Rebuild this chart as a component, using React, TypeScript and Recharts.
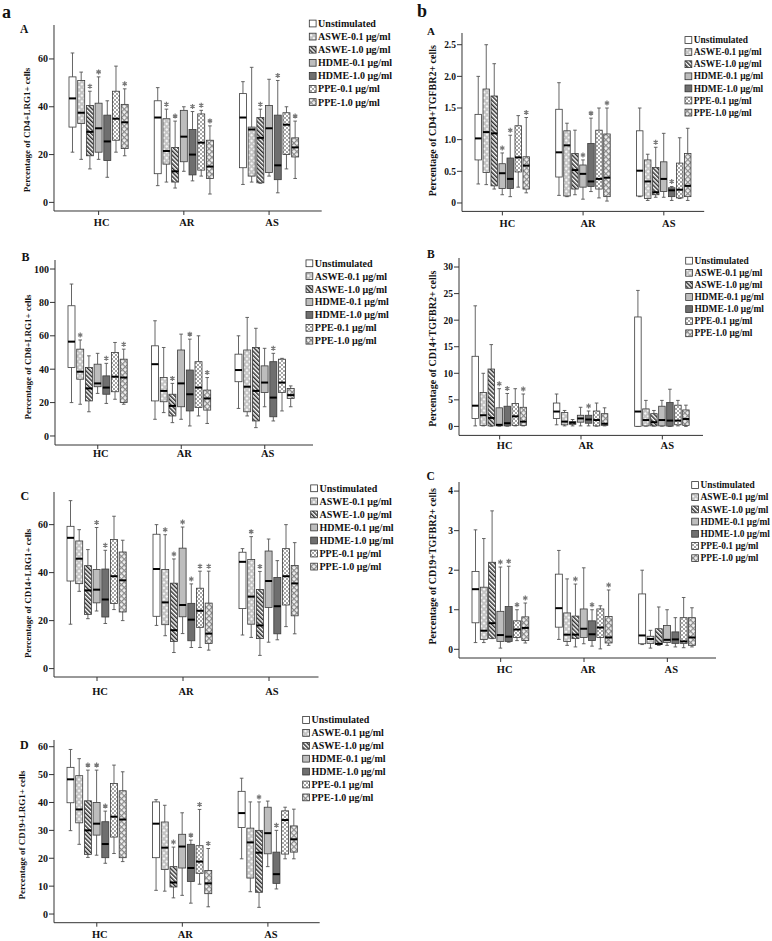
import React from "react";
import { BarChart, Bar, XAxis, YAxis } from "recharts";

type Five = [number, number, number, number, number];

const FONT = "'Liberation Serif', 'Times New Roman', serif";
const AXIS = "#333";

const categories = ["HC", "AR", "AS"];
const treatments = [
  "Unstimulated",
  "ASWE-0.1 μg/ml",
  "ASWE-1.0 μg/ml",
  "HDME-0.1 μg/ml",
  "HDME-1.0 μg/ml",
  "PPE-0.1 μg/ml",
  "PPE-1.0 μg/ml",
];

// each entry: [min, q1, median, q3, max], in treatment order
const cd4Lrg1HC: Five[] = [
  [21, 31.5, 43.5, 52.5, 62.5], [18, 33, 37.5, 51, 54.5], [14, 19.5, 29.5, 40.5, 46.5],
  [18, 21, 31, 41.5, 52.5], [10.5, 17.5, 25.5, 36.5, 42.5], [21, 26, 35, 46.5, 57], [19.5, 22.5, 33.5, 41, 47.5],
];
const cd4Lrg1AR: Five[] = [
  [7, 12, 35.5, 42.5, 48], [8.5, 16, 21.5, 35, 39], [6, 8.5, 13, 23, 34],
  [13, 17, 27.5, 38.5, 40], [9, 11.5, 20, 30.5, 38], [11, 13.5, 25, 37, 38.5], [3.5, 10, 15, 26, 32],
];
const cd4Lrg1AS: Five[] = [
  [7.5, 14.5, 35.5, 45.5, 50.5], [8.5, 11, 30.5, 31.5, 56.5], [8, 8.2, 27, 35.5, 39],
  [11, 12.5, 31, 40.5, 51.5], [4, 9.5, 15.5, 36.5, 51], [14, 20, 32.5, 37.5, 40], [10, 19, 23, 27, 34],
];
const cd4Lrg1Sig = [[2, 3, 6], [1, 2, 4, 5, 6], [2, 4, 6]];

const cd8Lrg1HC: Five[] = [
  [20, 41, 56.5, 78, 91], [19, 34, 38.5, 52, 57.5], [14.5, 21, 28.5, 41, 48],
  [25.5, 29.5, 31.5, 43, 49.5], [19.5, 25, 29, 36, 43.5], [22, 26.5, 35.5, 50, 56], [19, 20, 35, 46, 52],
];
const cd8Lrg1AR: Five[] = [
  [10, 21, 43, 54, 69], [14, 20.5, 27, 35, 53], [8, 12, 18, 25, 31.5],
  [10, 17.5, 31.5, 51.5, 61], [6, 15, 25, 39.5, 58], [12, 17, 29, 44.5, 60], [7.5, 15.5, 22.5, 27.5, 35],
];
const cd8Lrg1AS: Five[] = [
  [16.5, 32.5, 39.5, 49, 60], [12, 14.5, 29.5, 51.5, 71], [5, 9, 27, 53, 64.5],
  [17.5, 26, 32, 42, 52.5], [9, 11.5, 23, 44.5, 49.5], [15, 26, 32, 46, 46.5], [17.5, 22.5, 24.5, 28.5, 30],
];
const cd8Lrg1Sig = [[1, 4, 6], [2, 4, 6], [4]];

const cd14Lrg1HC: Five[] = [
  [18.5, 36.5, 54.5, 59.3, 70], [32.2, 35.4, 45.8, 53.2, 57.9], [20.8, 22.6, 32.6, 42.9, 49.6],
  [24, 27.4, 32.9, 41.3, 58.8], [18.8, 21.5, 28.8, 41.5, 49.3], [24.6, 27.1, 38.5, 53.8, 63.5], [20, 23.6, 36.8, 48.6, 53.5],
];
const cd14Lrg1AR: Five[] = [
  [18, 21.8, 41.5, 56, 60], [13.7, 18.3, 27.6, 41.3, 55.8], [6.7, 11.3, 16, 35.6, 45.7],
  [14.6, 21.6, 26.5, 50.2, 59], [8.8, 11.6, 20.4, 27.2, 35.3], [8.8, 17.2, 24.1, 33.5, 40.6], [7.7, 10.5, 14.6, 27.3, 40.6],
];
const cd14Lrg1AS: Five[] = [
  [14, 25, 44.5, 48.5, 50], [13, 18.5, 30, 45.5, 55], [5.5, 12.5, 18, 33, 40.5],
  [11, 25.5, 36.5, 49, 54], [12, 14.5, 26, 38, 45], [17.5, 26.5, 38.5, 50, 60], [14.5, 22, 35.5, 43, 52.5],
];
const cd14Lrg1Sig = [[3, 4], [1, 2, 3, 4, 5, 6], [1, 2]];

const cd19Lrg1HC: Five[] = [
  [29.9, 39.9, 48.3, 52.6, 59], [25, 32.7, 37.5, 49.6, 55.7], [20.3, 21.4, 30, 40.6, 51.6],
  [21.1, 28.3, 32.4, 40, 51.6], [18.2, 20.2, 25.1, 33.1, 36.9], [21.7, 27.6, 34.9, 46.8, 53.4], [18.8, 20.2, 33.9, 44.2, 51],
];
const cd19Lrg1AR: Five[] = [
  [8.5, 20.2, 32.4, 40.2, 41], [8.2, 16, 23.8, 33, 39], [5.8, 9.7, 11.3, 17, 24],
  [6.7, 16.5, 24.2, 28.6, 36.3], [3.9, 11.7, 16.5, 25, 26.5], [10.7, 14.6, 18.8, 24.5, 37.5], [2.6, 7.3, 11, 15.6, 23.5],
];
const cd19Lrg1AS: Five[] = [
  [19.8, 31, 36.2, 44, 48.7], [8, 12.9, 25.7, 30.8, 40.2], [2.4, 7.8, 22, 30, 40.2],
  [17, 21.6, 29, 38.3, 40.5], [9, 11, 14.3, 22.2, 30], [19.8, 21.5, 33.7, 37, 38.3], [19.8, 22.2, 26.8, 31.6, 37.6],
];
const cd19Lrg1Sig = [[2, 3, 4], [2, 4, 5, 6], [2, 4]];

const cd4TgfHC: Five[] = [
  [0.3, 0.68, 1.02, 1.4, 2.0], [0.29, 0.48, 1.12, 1.8, 2.5], [0.22, 0.27, 1.1, 1.69, 2.2],
  [0.13, 0.23, 0.47, 0.62, 0.79], [0.1, 0.23, 0.38, 0.71, 1.07], [0.25, 0.49, 0.72, 1.22, 1.38], [0.16, 0.22, 0.59, 0.73, 1.35],
];
const cd4TgfAR: Five[] = [
  [0.12, 0.41, 0.8, 1.48, 1.9], [0.1, 0.11, 0.91, 1.14, 1.26], [0.13, 0.22, 0.52, 0.78, 1.15],
  [0.06, 0.25, 0.46, 0.6, 0.68], [0.18, 0.26, 0.34, 0.94, 1.34], [0.08, 0.22, 0.38, 1.15, 1.5], [0.03, 0.1, 0.4, 1.09, 1.5],
];
const cd4TgfAS: Five[] = [
  [0.1, 0.11, 0.51, 1.14, 1.5], [0.04, 0.07, 0.34, 0.68, 0.77], [0.09, 0.13, 0.17, 0.56, 0.88],
  [0.09, 0.18, 0.38, 0.65, 1.1], [0.04, 0.1, 0.2, 0.24, 0.26], [0.07, 0.08, 0.21, 0.63, 1.03], [0.04, 0.1, 0.27, 0.78, 1.18],
];
const cd4TgfSig = [[3, 4, 6], [3, 4, 6], [2, 4]];

const cd14TgfHC: Five[] = [
  [0.1, 1.5, 3.9, 13.2, 22.7], [0.1, 0.2, 2.1, 6.4, 10], [0.05, 0.1, 1.6, 10.8, 15.4],
  [0.05, 0.1, 0.3, 3.5, 7.1], [0.05, 0.1, 0.6, 3.8, 6.2], [0.1, 0.2, 1.9, 4.3, 7.1], [0.1, 0.2, 0.9, 3.6, 6.1],
];
const cd14TgfAR: Five[] = [
  [0.3, 1.5, 2.8, 4.4, 6.1], [0.1, 0.3, 0.9, 2.6, 3], [0.1, 0.4, 0.7, 0.9, 1.3],
  [0.1, 0.8, 1.5, 2.1, 3.6], [0.1, 0.6, 1.3, 2.1, 2.9], [0.05, 0.1, 1.2, 2.9, 4.4], [0.1, 0.2, 0.5, 2.4, 3.5],
];
const cd14TgfAS: Five[] = [
  [0, 0.02, 2.8, 20.6, 25.6], [0.05, 0.1, 1.2, 3.3, 4.9], [0.05, 0.1, 0.8, 2.4, 3],
  [0.05, 0.1, 1.2, 3.8, 4.9], [0, 0.05, 1.1, 4.5, 7], [0.1, 0.3, 1.1, 4, 4.9], [0, 0.2, 1.4, 3.1, 4],
];
const cd14TgfSig = [[3, 4, 6], [4], []];

const cd19TgfHC: Five[] = [
  [0.17, 0.67, 1.52, 1.97, 3.02], [0.17, 0.25, 0.47, 1.57, 2.8], [0.27, 0.28, 0.66, 2.2, 3.5],
  [0.03, 0.2, 0.36, 0.96, 2.08], [0.18, 0.2, 0.32, 1.08, 2.1], [0.22, 0.3, 0.5, 0.72, 1.0], [0.16, 0.22, 0.54, 0.82, 1.17],
];
const cd19TgfAR: Five[] = [
  [0.25, 0.56, 1.04, 1.9, 2.5], [0.1, 0.2, 0.37, 0.92, 1.78], [0.06, 0.27, 0.37, 0.84, 1.65],
  [0.14, 0.3, 0.52, 1.02, 2.06], [0.08, 0.22, 0.38, 0.72, 1.0], [0.01, 0.3, 0.55, 1.02, 1.1], [0.1, 0.16, 0.3, 0.83, 1.5],
];
const cd19TgfAS: Five[] = [
  [0.12, 0.14, 0.35, 1.4, 2.0], [0.03, 0.15, 0.26, 0.33, 0.48], [0.1, 0.12, 0.14, 0.52, 1.07],
  [0.1, 0.17, 0.24, 0.6, 1.0], [0.06, 0.15, 0.25, 0.44, 0.8], [0.04, 0.15, 0.2, 0.8, 1.31], [0.06, 0.1, 0.3, 0.8, 1.05],
];
const cd19TgfSig = [[3, 4, 5, 6], [2, 4, 6], []];

const fills = [
  "#ffffff",
  "url(#pat-aswe01)",
  "url(#pat-aswe10)",
  "#bdbdbd",
  "#6f6f6f",
  "url(#pat-ppe01)",
  "url(#pat-ppe10)",
];

// whisker range drives the bar; box parts are placed with the same pixel scale
const rangeKeys = treatments.map((_, ti) => (d: any) => [d["s" + ti].v[0], d["s" + ti].v[4]]);

// significance star, drawn as three crossing strokes
const starPath = (cx: number, cy: number, r: number) => {
  const dx = r * 0.866;
  const dy = r * 0.5;
  return `M${cx} ${cy - r}V${cy + r}M${cx - dx} ${cy - dy}L${cx + dx} ${cy + dy}M${cx - dx} ${cy + dy}L${cx + dx} ${cy - dy}`;
};

const boxShapes = treatments.map((_, ti) => (p: any) => {
  const cell = p.payload?.["s" + ti];
  if (!cell) return <g />;
  const [lo, q1, med, q3, hi] = cell.v as Five;
  const top = Math.min(p.y, p.y + p.height);
  const h = Math.abs(p.height);
  const k = hi > lo ? h / (hi - lo) : 0;
  const yv = (v: number) => top + (hi - v) * k;
  const cx = p.x + p.width / 2;
  const cap = 1.8;
  return (
    <g>
      <line x1={cx} x2={cx} y1={yv(hi)} y2={yv(q3)} stroke="#555" strokeWidth={0.9} />
      <line x1={cx} x2={cx} y1={yv(q1)} y2={yv(lo)} stroke="#555" strokeWidth={0.9} />
      <line x1={cx - cap} x2={cx + cap} y1={yv(hi)} y2={yv(hi)} stroke="#555" strokeWidth={0.9} />
      <line x1={cx - cap} x2={cx + cap} y1={yv(lo)} y2={yv(lo)} stroke="#555" strokeWidth={0.9} />
      <rect
        x={p.x}
        y={yv(q3)}
        width={p.width}
        height={Math.max(yv(q1) - yv(q3), 0.5)}
        fill={fills[ti]}
        stroke="#3a3a3a"
        strokeWidth={0.8}
      />
      <line x1={p.x} x2={p.x + p.width} y1={yv(med)} y2={yv(med)} stroke="#000" strokeWidth={2} />
      {cell.sig && <path d={starPath(cx, yv(hi) - 5, 2.5)} stroke="#777" strokeWidth={1.2} fill="none" />}
    </g>
  );
});

type PanelProps = {
  stats: Five[][];
  sig: number[][];
  yLabel: string;
  plot: { l: number; r: number; t: number; b: number };
  domain: [number, number];
  ticks: number[];
  fmt?: (v: number) => string;
  pad: { left: number; right: number };
  barSize: number;
  barGap: number;
  labelXY: [number, number];
  labelSize: number;
  tickSize: number;
  catOff: number;
  catDx: number;
};

const Panel = (props: PanelProps) => {
  const { stats, sig, yLabel, plot, domain, ticks, fmt, pad, barSize, barGap, labelXY, labelSize, tickSize, catOff, catDx } =
    props;
  const left = plot.l - 40;
  const top = plot.t - 10;
  const width = plot.r - plot.l + 50;
  const height = plot.b - plot.t + 40;
  const data = categories.map((name, ci) => {
    const row: any = { name };
    treatments.forEach((_, ti) => {
      row["s" + ti] = { v: stats[ci][ti], sig: sig[ci].includes(ti) };
    });
    return row;
  });
  const lx = labelXY[0] - left;
  const ly = labelXY[1] - top;
  const renderYLabel = () => (
    <text
      x={lx}
      y={ly}
      transform={`rotate(-90 ${lx} ${ly})`}
      textAnchor="middle"
      dominantBaseline="central"
      fontSize={labelSize}
      fontWeight="bold"
      fontFamily={FONT}
      fill="#111"
    >
      {yLabel}
    </text>
  );
  const renderCat = (t: any) => (
    <text
      x={t.x + catDx}
      y={t.y - 4 + catOff}
      textAnchor="middle"
      dominantBaseline="central"
      fontSize={10.5}
      fontWeight="bold"
      fontFamily={FONT}
      fill="#111"
    >
      {t.payload.value}
    </text>
  );
  return (
    <div style={{ position: "absolute", left, top }}>
      <BarChart
        width={width}
        height={height}
        data={data}
        margin={{ top: 10, right: 10, bottom: 0, left: 0 }}
        barSize={barSize}
        barGap={barGap}
      >
        <XAxis
          dataKey="name"
          height={30}
          interval={0}
          padding={pad}
          tickSize={4}
          tickMargin={0}
          stroke={AXIS}
          tick={renderCat}
        />
        <YAxis
          width={40}
          type="number"
          domain={domain}
          ticks={ticks}
          interval={0}
          tickSize={5}
          tickMargin={1}
          tickFormatter={fmt ?? ((v: number) => String(v))}
          stroke={AXIS}
          tick={{ fontSize: tickSize, fontWeight: "bold", fill: "#111", fontFamily: FONT }}
          label={renderYLabel}
        />
        {treatments.map((t, ti) => (
          <Bar key={t} name={t} dataKey={rangeKeys[ti]} shape={boxShapes[ti]} isAnimationActive={false} />
        ))}
      </BarChart>
    </div>
  );
};

const LegendBlock = ({ x, y, step, size }: { x: number; y: number; step: number; size: number }) => (
  <g>
    {treatments.map((t, i) => (
      <g key={t}>
        <rect x={x} y={y + i * step - 3.4} width={6.8} height={6.8} fill={fills[i]} stroke="#333" strokeWidth={0.8} />
        <text x={x + 8.8} y={y + i * step + size * 0.34} fontSize={size} fontWeight="bold" fontFamily={FONT} fill="#111">
          {t}
        </text>
      </g>
    ))}
  </g>
);

const Letter = ({ x, y, size, children }: { x: number; y: number; size: number; children: string }) => (
  <text x={x} y={y} fontSize={size} fontWeight="bold" fontFamily={FONT} fill="#111">
    {children}
  </text>
);

const oneDecimal = (v: number) => (v === 0 ? "0" : v.toFixed(1));

export default function App() {
  return (
    <div
      style={{
        position: "absolute",
        left: 0,
        top: 0,
        width: 772,
        height: 941,
        background: "#fff",
        overflow: "hidden",
        fontFamily: FONT,
      }}
    >
      <svg width={772} height={941} style={{ position: "absolute", left: 0, top: 0 }}>
        <defs>
          <pattern id="pat-aswe01" width={4} height={4} patternUnits="userSpaceOnUse" patternTransform="rotate(45)">
            <rect width={4} height={4} fill="#c4c4c4" />
            <rect width={2} height={2} fill="#f6f6f6" />
          </pattern>
          <pattern id="pat-aswe10" width={3} height={3} patternUnits="userSpaceOnUse" patternTransform="rotate(-45)">
            <rect width={3} height={3} fill="#ffffff" />
            <rect width={1.5} height={3} fill="#2e2e2e" />
          </pattern>
          <pattern id="pat-ppe01" width={4} height={4} patternUnits="userSpaceOnUse">
            <rect width={4} height={4} fill="#ffffff" />
            <circle cx={1} cy={1} r={0.75} fill="#222" />
            <circle cx={3} cy={3} r={0.75} fill="#222" />
          </pattern>
          <pattern id="pat-ppe10" width={4} height={4} patternUnits="userSpaceOnUse" patternTransform="rotate(45)">
            <rect width={4} height={4} fill="#f2f2f2" />
            <path d="M0 0.6H4M0.6 0V4" stroke="#8a8a8a" strokeWidth={1.2} />
          </pattern>
        </defs>
        <Letter x={2} y={18} size={18}>a</Letter>
        <Letter x={417} y={17} size={18}>b</Letter>
        <Letter x={20} y={32.5} size={11.5}>A</Letter>
        <Letter x={21.5} y={260.7} size={12}>B</Letter>
        <Letter x={20.5} y={500} size={12}>C</Letter>
        <Letter x={20} y={749} size={12}>D</Letter>
        <Letter x={427} y={35} size={11}>A</Letter>
        <Letter x={427} y={258.3} size={11.5}>B</Letter>
        <Letter x={426.5} y={480} size={11.5}>C</Letter>
        <LegendBlock x={309.3} y={23.5} step={13.1} size={10} />
        <LegendBlock x={306} y={263.3} step={12.9} size={10} />
        <LegendBlock x={310.7} y={488.3} step={13.05} size={10} />
        <LegendBlock x={302.7} y={720} step={12.9} size={10} />
        <LegendBlock x={685} y={40} step={12.1} size={9.4} />
        <LegendBlock x={685.7} y={260.7} step={12.1} size={9.4} />
        <LegendBlock x={691.7} y={485} step={12.2} size={9.4} />
      </svg>

      <Panel
        stats={[cd4Lrg1HC, cd4Lrg1AR, cd4Lrg1AS]}
        sig={cd4Lrg1Sig}
        yLabel="Percentage of CD4+LRG1+ cells"
        plot={{ l: 54.3, r: 322, t: 25, b: 211 }}
        domain={[-3.6, 74.2]}
        ticks={[0, 20, 40, 60]}
        pad={{ left: 2, right: 10 }}
        barSize={7}
        barGap={1.7}
        labelXY={[27, 130]}
        labelSize={9}
        tickSize={10}
        catOff={12}
        catDx={3}
      />
      <Panel
        stats={[cd8Lrg1HC, cd8Lrg1AR, cd8Lrg1AS]}
        sig={cd8Lrg1Sig}
        yLabel="Percentage of CD8+LRG1+ cells"
        plot={{ l: 55, r: 313, t: 260, b: 445 }}
        domain={[-5.4, 105.4]}
        ticks={[0, 20, 40, 60, 80, 100]}
        pad={{ left: 1, right: 6.5 }}
        barSize={7}
        barGap={1.7}
        labelXY={[28, 357]}
        labelSize={9}
        tickSize={10}
        catOff={8}
        catDx={3}
      />
      <Panel
        stats={[cd14Lrg1HC, cd14Lrg1AR, cd14Lrg1AS]}
        sig={cd14Lrg1Sig}
        yLabel="Percentage of CD14+LRG1+ cells"
        plot={{ l: 53.5, r: 318, t: 491.7, b: 676.7 }}
        domain={[-3.5, 73.6]}
        ticks={[0, 20, 40, 60]}
        pad={{ left: 0, right: 6.5 }}
        barSize={7}
        barGap={1.7}
        labelXY={[28, 593]}
        labelSize={9}
        tickSize={10}
        catOff={14}
        catDx={3}
      />
      <Panel
        stats={[cd19Lrg1HC, cd19Lrg1AR, cd19Lrg1AS]}
        sig={cd19Lrg1Sig}
        yLabel="Percentage of CD19+LRG1+ cells"
        plot={{ l: 54.3, r: 320, t: 740, b: 922.7 }}
        domain={[-3.1, 62.4]}
        ticks={[0, 10, 20, 30, 40, 50, 60]}
        pad={{ left: 0, right: 9 }}
        barSize={7}
        barGap={1.7}
        labelXY={[22, 835]}
        labelSize={9}
        tickSize={10}
        catOff={11.5}
        catDx={3}
      />
      <Panel
        stats={[cd4TgfHC, cd4TgfAR, cd4TgfAS]}
        sig={cd4TgfSig}
        yLabel="Percentage of CD4+TGFBR2+ cells"
        plot={{ l: 462.3, r: 704.5, t: 33.3, b: 211.7 }}
        domain={[-0.133, 2.685]}
        ticks={[0, 0.5, 1, 1.5, 2, 2.5]}
        fmt={oneDecimal}
        pad={{ left: 0, right: 0 }}
        barSize={6.5}
        barGap={1.5}
        labelXY={[432.7, 121]}
        labelSize={10}
        tickSize={9.5}
        catOff={12}
        catDx={5}
      />
      <Panel
        stats={[cd14TgfHC, cd14TgfAR, cd14TgfAS]}
        sig={cd14TgfSig}
        yLabel="Percentage of CD14+TGFBR2+ cells"
        plot={{ l: 459, r: 703, t: 258.3, b: 435.7 }}
        domain={[-1.69, 31.7]}
        ticks={[0, 5, 10, 15, 20, 25, 30]}
        pad={{ left: 0, right: 0 }}
        barSize={6.5}
        barGap={1.5}
        labelXY={[433, 349]}
        labelSize={10}
        tickSize={9.5}
        catOff={10}
        catDx={5}
      />
      <Panel
        stats={[cd19TgfHC, cd19TgfAR, cd19TgfAS]}
        sig={cd19TgfSig}
        yLabel="Percentage of CD19+TGFBR2+ cells"
        plot={{ l: 459, r: 716, t: 481.7, b: 657.7 }}
        domain={[-0.22, 4.23]}
        ticks={[0, 1, 2, 3, 4]}
        pad={{ left: 0, right: 7 }}
        barSize={7}
        barGap={1.3}
        labelXY={[432.7, 566]}
        labelSize={10}
        tickSize={9.5}
        catOff={11.5}
        catDx={4}
      />
    </div>
  );
}
